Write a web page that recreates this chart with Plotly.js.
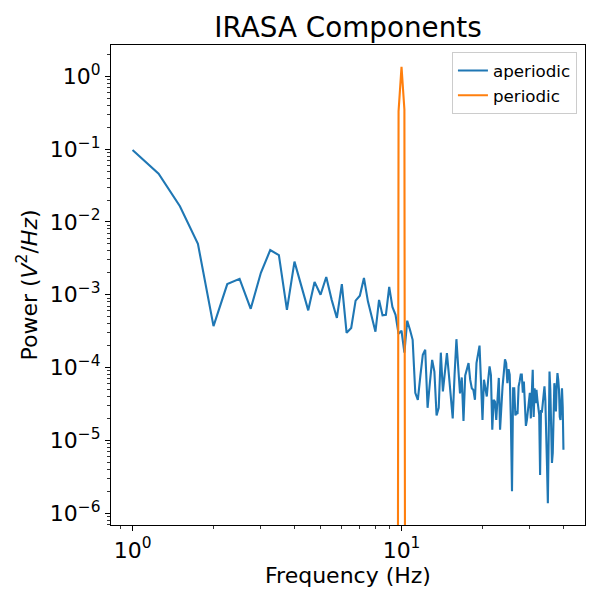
<!DOCTYPE html>
<html>
<head>
<meta charset="utf-8">
<script src="https://cdn.plot.ly/plotly-3.0.1.min.js"></script>
<style>html,body{margin:0;padding:0;background:#fff;}#chart{width:600px;height:600px;}</style>
</head>
<body>
<div id="chart"></div>
<script>
// Frequencies (Hz)
const freqs = [
  1, 1.25, 1.5, 1.75, 2, 2.25, 2.5, 2.75, 3, 3.25, 3.5, 3.75,
  4, 4.25, 4.5, 4.75, 5, 5.25, 5.5, 5.75, 6, 6.25, 6.5, 6.75,
  7, 7.25, 7.5, 7.75, 8, 8.25, 8.5, 8.75, 9, 9.25, 9.5, 9.75,
  10, 10.25, 10.5, 10.75, 11, 11.25, 11.5, 11.75, 12, 12.25, 12.5, 12.75,
  13, 13.25, 13.5, 13.75, 14, 14.25, 14.5, 14.75, 15, 15.25, 15.5, 15.75,
  16, 16.25, 16.5, 16.75, 17, 17.25, 17.5, 17.75, 18, 18.25, 18.5, 18.75,
  19, 19.25, 19.5, 19.75, 20, 20.25, 20.5, 20.75, 21, 21.25, 21.5, 21.75,
  22, 22.25, 22.5, 22.75, 23, 23.25, 23.5, 23.75, 24, 24.25, 24.5, 24.75,
  25, 25.25, 25.5, 25.75, 26, 26.25, 26.5, 26.75, 27, 27.25, 27.5, 27.75,
  28, 28.25, 28.5, 28.75, 29, 29.25, 29.5, 29.75, 30, 30.25, 30.5, 30.75,
  31, 31.25, 31.5, 31.75, 32, 32.25, 32.5, 32.75, 33, 33.25, 33.5, 33.75,
  34, 34.25, 34.5, 34.75, 35, 35.25, 35.5, 35.75, 36, 36.25, 36.5, 36.75,
  37, 37.25, 37.5, 37.75, 38, 38.25, 38.5, 38.75, 39, 39.25, 39.5, 39.75,
  40
];

// Aperiodic component power (V^2/Hz)
const aperiodic = [
  0.097, 0.046, 0.0164, 0.0050,
  3.7e-4, 1.4e-3, 1.65e-3, 6.4e-4,
  2.0e-3, 4.1e-3, 3.5e-3, 6.2e-4,
  2.85e-3, 1.3e-3, 6.1e-4, 1.5e-3,
  1.0e-3, 1.75e-3, 8.5e-4, 4.8e-4,
  1.4e-3, 3.0e-4, 3.5e-4, 8.3e-4,
  9.7e-4, 1.7e-3, 8.1e-4, 5.0e-4,
  3.1e-4, 8.5e-4, 5.2e-4, 5.3e-4,
  1.28e-3, 6.8e-4, 5.3e-4, 2.9e-4,
  3.2e-4, 1.6e-4, 4.4e-4, 3.3e-4,
  2.4e-4, 4.5e-5, 3.6e-5, 7.7e-5,
  1.5e-4, 1.75e-4, 2.8e-5, 6.2e-5,
  1.27e-4, 8.8e-5, 2.2e-5, 2.8e-5,
  1.6e-4, 4.7e-5, 8.0e-5, 1.58e-4,
  8.0e-5, 4.0e-5, 2.0e-5, 8.0e-5,
  2.45e-4, 1.0e-4, 4.4e-5, 7.3e-5,
  1.85e-5, 7.8e-5, 1.0e-4, 1.15e-4,
  6.8e-5, 5.2e-5, 4.9e-5, 3.6e-5,
  1.15e-4, 1.5e-4, 2.0e-4, 6.2e-5,
  1.9e-5, 6.8e-5, 5.5e-5, 4.0e-5,
  6.8e-5, 1.04e-4, 7.9e-5, 1.4e-5,
  3.6e-5, 3.4e-5, 1.9e-5, 4.0e-5,
  7.2e-5, 1.4e-5, 3.2e-5, 5.5e-5,
  8.4e-5, 1.3e-4, 1.15e-4, 6.1e-5,
  9.5e-5, 8.0e-5, 1.9e-5, 2.0e-6,
  5.2e-5, 5.2e-5, 2.2e-5, 2.4e-5,
  2.3e-5, 5.5e-5, 6.5e-5, 8.0e-5,
  8.0e-5, 4.5e-5, 6.4e-5, 2.5e-5,
  1.58e-5, 1.9e-5, 2.5e-5, 3.0e-5,
  4.5e-5, 2.0e-5, 4.5e-5, 9.3e-5,
  2.1e-5, 5.2e-5, 3.25e-5, 4.95e-5,
  3.6e-5, 2.5e-5, 2.24e-5, 3.35e-6,
  2.6e-5, 2.4e-5, 3.25e-5, 4.5e-5,
  5.5e-5, 3.6e-5, 1.55e-5, 4.4e-6,
  1.37e-6, 1.0e-5, 8.8e-5, 4.95e-5,
  1.7e-5, 4.9e-6, 6.7e-6, 2.1e-5,
  6.1e-5, 4.5e-5, 2.5e-5, 5.5e-5,
  8.4e-5, 6.8e-5, 4.95e-5, 2.1e-5,
  1.9e-5, 3.25e-5, 5.2e-5, 2.9e-5,
  7.4e-6
];

// Periodic component (zero outside the alpha peak)
const periodicFreqs = [9.5, 9.75, 10, 10.25, 10.5];
const periodic = [0, 0.33, 1.35, 0.35, 0];

// Tick labels
const xTickVals = [1, 10];
const xTickText = ['10<sup>0</sup>', '10<sup>1</sup>'];
const yTickVals = [1e-6, 1e-5, 1e-4, 1e-3, 1e-2, 1e-1, 1];
const yTickText = ['10<sup>\u22126</sup>', '10<sup>\u22125</sup>', '10<sup>\u22124</sup>',
                   '10<sup>\u22123</sup>', '10<sup>\u22122</sup>', '10<sup>\u22121</sup>', '10<sup>0</sup>'];

// Matplotlib-like clipping: non-positive values drop far below the axis
const clipLog = v => (v > 0 ? v : 1e-30);

// Autoscale like matplotlib (5% margins in log space)
function logRange(vals) {
  const pos = vals.filter(v => v > 0).map(v => Math.log10(v));
  const lo = Math.min(...pos), hi = Math.max(...pos);
  const pad = 0.05 * (hi - lo);
  return [lo - pad, hi + pad];
}
const xRange = logRange(freqs.concat(periodicFreqs.filter((f, i) => periodic[i] > 0)));
const yRange = logRange(aperiodic.concat(periodic));

const font = 'DejaVu Sans, sans-serif';

const traces = [
  {
    x: freqs, y: aperiodic.map(clipLog), type: 'scatter', mode: 'lines',
    name: 'aperiodic', line: {color: '#1f77b4', width: 2.1}
  },
  {
    x: periodicFreqs, y: periodic.map(clipLog), type: 'scatter', mode: 'lines',
    name: 'periodic', line: {color: '#ff7f0e', width: 2.1}
  }
];

const axisCommon = {
  type: 'log',
  showgrid: false, zeroline: false,
  showline: true, mirror: true, linecolor: '#000', linewidth: 1.1,
  ticks: 'outside', ticklen: 5, tickwidth: 1.1, tickcolor: '#000',
  tickfont: {family: font, size: 22, color: '#000'},
  tickmode: 'array',
  minor: {ticks: 'outside', ticklen: 3, tickwidth: 0.8, tickcolor: '#000', dtick: 'D1', showgrid: false}
};

const layout = {
  width: 600, height: 600,
  margin: {l: 111, r: 15, t: 45, b: 75},
  paper_bgcolor: '#fff', plot_bgcolor: '#fff',
  font: {family: font, color: '#000'},
  title: {
    text: 'IRASA Components',
    font: {family: font, size: 27.8, color: '#000'},
    x: 0.58, xref: 'container', xanchor: 'center',
    y: 0.955, yref: 'container', yanchor: 'middle'
  },
  xaxis: Object.assign({}, axisCommon, {
    range: xRange,
    tickvals: xTickVals, ticktext: xTickText,
    title: {text: 'Frequency (Hz)', font: {family: font, size: 22, color: '#000'}, standoff: 6}
  }),
  yaxis: Object.assign({}, axisCommon, {
    range: yRange,
    tickvals: yTickVals, ticktext: yTickText,
    title: {text: 'Power (<i>V</i><sup>2</sup>/<i>Hz</i>)', font: {family: font, size: 22, color: '#000'}, standoff: 6}
  }),
  showlegend: true,
  legend: {
    x: 0.983, y: 0.985, xanchor: 'right', yanchor: 'top',
    bgcolor: 'rgba(255,255,255,0.8)', bordercolor: '#cccccc', borderwidth: 1,
    font: {family: font, size: 16.7, color: '#000'}
  }
};

Plotly.newPlot('chart', traces, layout, {displayModeBar: false, staticPlot: true});
</script>
</body>
</html>
